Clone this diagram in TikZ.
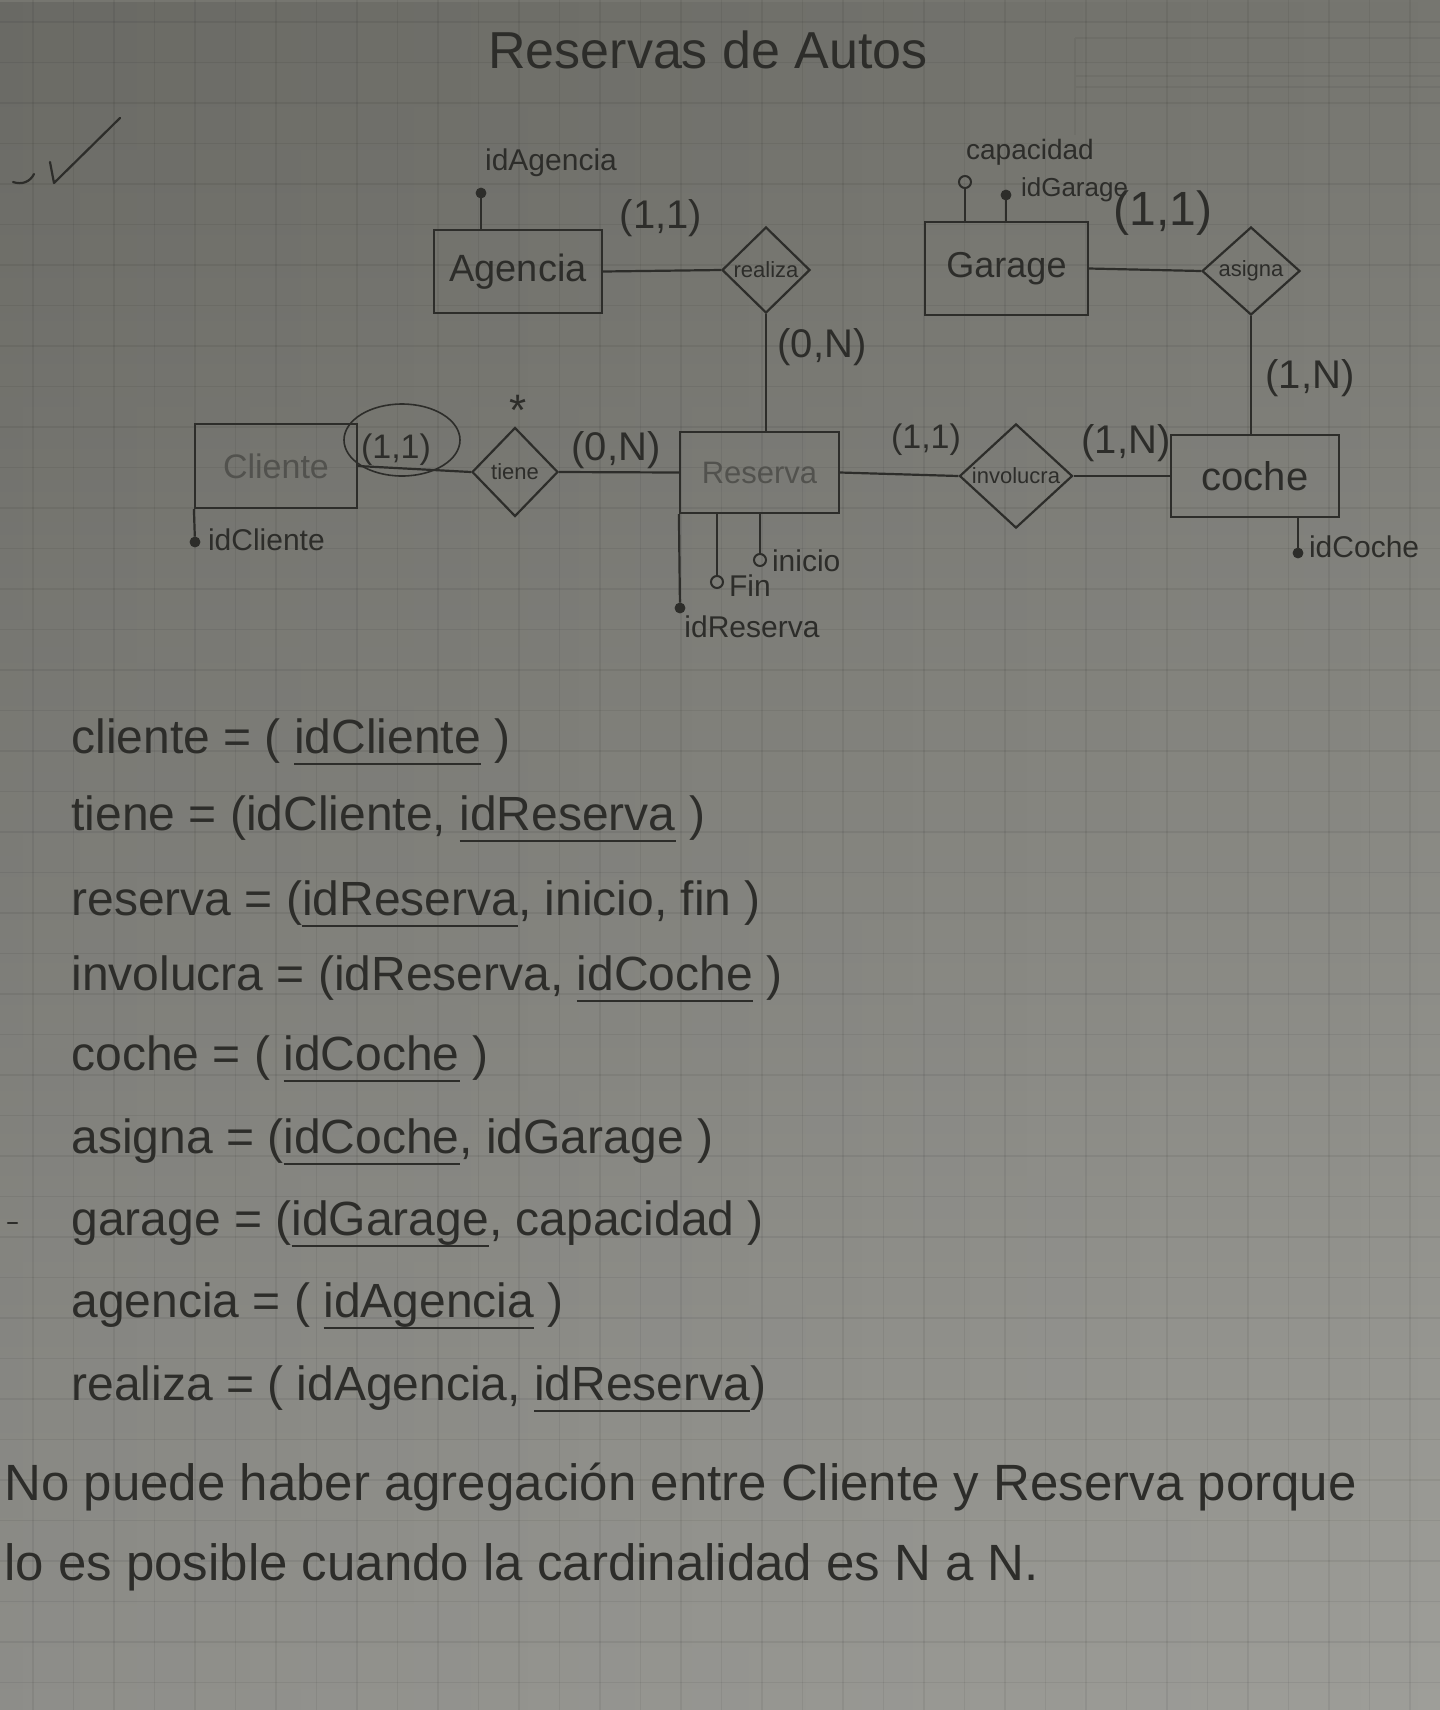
\documentclass[tikz,border=0pt]{standalone}
\usepackage{fontspec}
\setmainfont{Liberation Sans}
\usetikzlibrary{shapes.geometric,fadings}
\definecolor{ink}{RGB}{45,45,42}
\definecolor{faintink}{RGB}{82,82,78}
\definecolor{paperTop}{RGB}{118,118,112}
\definecolor{paperBot}{RGB}{158,158,153}
\newcommand\setfs[1]{\fontsize{#1}{#1}\selectfont}
\newsavebox\keybox
\newcommand\keyu[1]{\sbox\keybox{#1}\rlap{\rule[-6pt]{\wd\keybox}{0.9pt}}\usebox\keybox}
\tikzset{
  every node/.style={text=ink},
  ent/.style={draw=ink, line width=1.1pt, rectangle, inner sep=0pt},
  rel/.style={draw=ink, line width=1.1pt, diamond, inner sep=0pt, aspect=1, font=\setfs{11pt}},
  lnk/.style={draw=ink, line width=1.1pt},
  gridln/.style={draw=black, opacity=0.06, line width=0.6pt},
  keydot/.style={circle, fill=ink, draw=ink, inner sep=0pt, minimum size=5pt},
  opendot/.style={circle, draw=ink, line width=1pt, inner sep=0pt, minimum size=6pt},
  card/.style={font=\setfs{20pt}},
  attr/.style={font=\setfs{15pt}},
  schema/.style={anchor=base west, font=\setfs{24pt}, inner sep=0pt},
  note/.style={anchor=base west, font=\setfs{25.5pt}, inner sep=0pt},
}
\begin{document}
\begin{tikzpicture}[x=0.5pt,y=-0.5pt]
\useasboundingbox (0,0) rectangle (1440,1710);
\clip (0,0) rectangle (1440,1710);
% paper
\shade[top color=paperTop, bottom color=paperBot] (0,0) rectangle (1440,1710);
\fill[black, path fading=east, fill opacity=0.10] (0,0) rectangle (1440,1710);
\foreach \i in {0,...,35} \draw[gridln] ({33+40.5*\i},0) -- ({33+40.5*\i},1710);
\foreach \j in {0,...,42} \draw[gridln] (0,{22+40.5*\j}) -- (1440,{22+40.5*\j});
% faint printed header
\draw[black, opacity=0.05, line width=1pt] (1075,38) -- (1440,38) (1075,76) -- (1440,76) (1075,87) -- (1440,87) (1075,38) -- (1075,135);

% title and check mark
\node[font=\setfs{26pt}] (title) at (708,50) {Reservas de Autos};
\draw[lnk, line cap=round] (13,182) .. controls (22,185) and (30,182) .. (34,174);
\draw[lnk, line cap=round, line join=round] (50,162) -- (54,183) -- (120,118);
\draw[lnk, line cap=round] (8,1223) -- (17,1223);

% entities
\node[ent, minimum width=84pt, minimum height=41.5pt, font=\setfs{19pt}] (agencia) at (518,271.5) {Agencia};
\node[ent, minimum width=81.5pt, minimum height=46.5pt, font=\setfs{18pt}] (garage) at (1006.5,268.5) {Garage};
\node[ent, minimum width=81pt, minimum height=42pt, font=\setfs{17pt}, text=faintink] (cliente) at (276,466) {Cliente};
\node[ent, minimum width=79.5pt, minimum height=40.5pt, font=\setfs{15.5pt}, text=faintink] (reserva) at (759.5,472.5) {Reserva};
\node[ent, minimum width=84pt, minimum height=41pt, font=\setfs{20pt}] (coche) at (1255,476) {coche};

% relationships
\node[rel, minimum width=44pt, minimum height=43pt] (realiza) at (766,270) {realiza};
\node[rel, minimum width=49pt, minimum height=44pt] (asigna) at (1251,271) {asigna};
\node[rel, minimum width=43pt, minimum height=44.5pt] (tiene) at (515,472) {tiene};
\node[rel, minimum width=56.5pt, minimum height=48pt] (involucra) at (1016,476) {involucra};

% connectors
\draw[lnk] (agencia.east) -- (realiza.west);
\draw[lnk] (realiza.south) -- (realiza.south |- reserva.north);
\draw[lnk] (garage.east) -- (asigna.west);
\draw[lnk] (asigna.south) -- (asigna.south |- coche.north);
\draw[lnk] (cliente.east) -- (tiene.west);
\draw[lnk] (tiene.east) -- (reserva.west);
\draw[lnk] (reserva.east) -- (involucra.west);
\draw[lnk] (involucra.east) -- (coche.west);

% attributes
\node[keydot] (dIdAgencia) at (481,193) {};
\draw[lnk] (dIdAgencia) -- (dIdAgencia |- agencia.north);
\node[attr] (lIdAgencia) at (551,163) {idAgencia};

\node[opendot] (dCapacidad) at (965,182) {};
\draw[lnk] (dCapacidad) -- (dCapacidad |- garage.north);
\node[attr, font=\setfs{14pt}] (lCapacidad) at (1030,152) {capacidad};
\node[keydot] (dIdGarage) at (1006,195) {};
\draw[lnk] (dIdGarage) -- (dIdGarage |- garage.north);
\node[attr, font=\setfs{13pt}, anchor=west] (lIdGarage) at (1014,190) {idGarage};

\node[keydot] (dIdCliente) at (195,542) {};
\draw[lnk] (cliente.south west) -- (dIdCliente);
\node[attr, anchor=west] (lIdCliente) at (201,540) {idCliente};

\node[keydot] (dIdCoche) at (1298,553) {};
\draw[lnk] (dIdCoche |- coche.south) -- (dIdCoche);
\node[attr, anchor=west] (lIdCoche) at (1302,547) {idCoche};

\node[keydot] (dIdReserva) at (680,608) {};
\draw[lnk] (reserva.south west) -- (dIdReserva);
\node[attr] (lIdReserva) at (752,627) {idReserva};
\node[opendot] (dFin) at (717,582) {};
\draw[lnk] (dFin |- reserva.south) -- (dFin);
\node[attr, anchor=west] (lFin) at (722,586) {Fin};
\node[opendot] (dInicio) at (760,560) {};
\draw[lnk] (dInicio |- reserva.south) -- (dInicio);
\node[attr, anchor=west] (lInicio) at (765,561) {inicio};

% cardinalities
\node[card] (c1) at (661,218) {(1,1)};
\node[card] (c2) at (822,347) {(0,N)};
\node[card, font=\setfs{24pt}] (c3) at (1163,213) {(1,1)};
\node[card] (c4) at (1310,378) {(1,N)};
\node[card, font=\setfs{17pt}] (c5) at (396,450) {(1,1)};
\draw[lnk, line width=0.8pt] (402,440) ellipse [x radius=29pt, y radius=18pt];
\node[font=\setfs{22pt}] (ast) at (518,410) {*};
\node[card] (c6) at (616,450) {(0,N)};
\node[card, font=\setfs{17pt}] (c7) at (926,440) {(1,1)};
\node[card] (c8) at (1126,443) {(1,N)};

% relational schema
\node[schema] (s1) at (71,753) {cliente = ( \keyu{idCliente} )};
\node[schema] (s2) at (71,830) {tiene = (idCliente, \keyu{idReserva} )};
\node[schema] (s3) at (71,915) {reserva = (\keyu{idReserva}, inicio, fin )};
\node[schema] (s4) at (71,990) {involucra = (idReserva, \keyu{idCoche} )};
\node[schema] (s5) at (71,1070) {coche = ( \keyu{idCoche} )};
\node[schema] (s6) at (71,1153) {asigna = (\keyu{idCoche}, idGarage )};
\node[schema] (s7) at (71,1235) {garage = (\keyu{idGarage}, capacidad )};
\node[schema] (s8) at (71,1317) {agencia = ( \keyu{idAgencia} )};
\node[schema] (s9) at (71,1400) {realiza = ( idAgencia, \keyu{idReserva})};

% note
\node[note] (n1) at (4,1500) {No puede haber agregación entre Cliente y Reserva porque};
\node[note] (n2) at (4,1580) {lo es posible cuando la cardinalidad es N a N.};
\end{tikzpicture}
\end{document}
